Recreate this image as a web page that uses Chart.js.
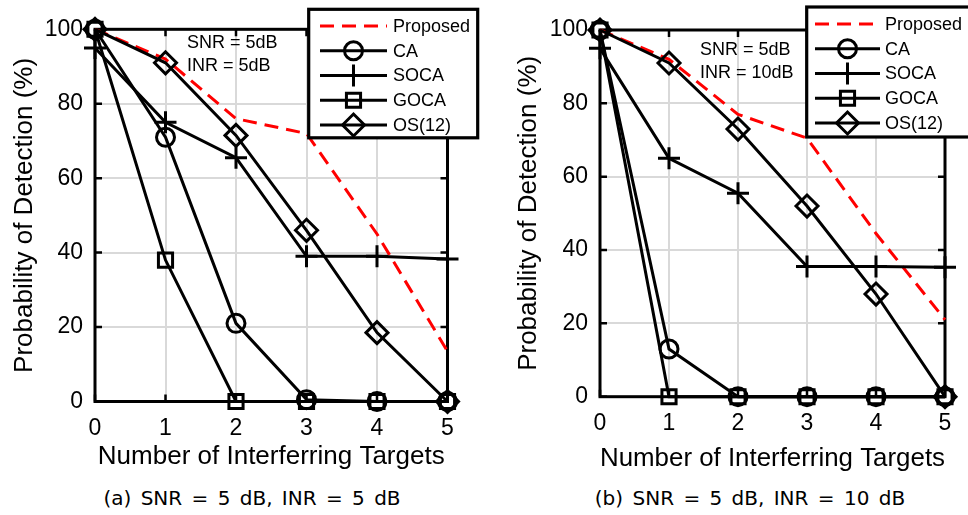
<!DOCTYPE html>
<html>
<head>
<meta charset="utf-8">
<script src="https://cdn.jsdelivr.net/npm/chart.js@4.4.1/dist/chart.umd.min.js"></script>
<style>
body{margin:0;background:#fff;width:968px;height:515px;position:relative;overflow:hidden}
canvas{position:absolute;top:0}
.legenda{position:absolute;top:486px;line-height:24px;font-family:"DejaVu Sans";font-size:20px;word-spacing:3px;white-space:nowrap;transform:translateX(-50%);color:#000}
</style>
</head>
<body>
<canvas id="graficoA" width="484" height="475" style="left:0"></canvas>
<canvas id="graficoB" width="484" height="475" style="left:484px"></canvas>
<div class="legenda" style="left:252px">(a) SNR = 5 dB, INR = 5 dB</div>
<div class="legenda" style="left:750px">(b) SNR = 5 dB, INR = 10 dB</div>
<script>
// dados
const alvos = ['0', '1', '2', '3', '4', '5'];
const nomes = ['Proposed', 'CA', 'SOCA', 'GOCA', 'OS(12)'];
const yTicks = [0, 20, 40, 60, 80, 100];

// (a) SNR = 5 dB, INR = 5 dB
const propostoA = [100, 92, 76, 72, 45, 13.5];
const caA = [100, 71, 21, 0.5, 0, 0];
const socaA = [95, 75, 65.5, 39, 39, 38.3];
const gocaA = [100, 38, 0, 0, 0, 0];
const osA = [100, 91, 71.5, 46, 18.5, 0];

// (b) SNR = 5 dB, INR = 10 dB
const propostoB = [100, 92, 77, 70.5, 44.5, 21];
const caB = [100, 13, 0, 0, 0, 0];
const socaB = [95, 65, 55.5, 35.5, 35.5, 35.3];
const gocaB = [100, 0, 0, 0, 0, 0];
const osB = [100, 91, 73, 52, 28, 0];

const estilos = [
  {cor: '#ff0000', tracejado: [14, 8], ponto: false, raio: 0},
  {ponto: 'circle', raio: 9},
  {ponto: 'cross', raio: 11},
  {ponto: 'rect', raio: 10},
  {ponto: 'rectRot', raio: 11},
];

const layoutA = {
  esq: 95, dir: 36.5, topo: 29.3, baixo: 73.5, padY: 12, tituloY: 9.4, tituloX: 2.4,
  notaX: 187, notaY: [43, 66.5], notas: ['SNR = 5dB', 'INR = 5dB'],
  leg: {x: 308.7, y: 9.3, w: 169, h: 128.5, y0: 26, passo: 24.75, l0: 320, l1: 387, tx: 393}
};
const layoutB = {
  esq: 116, dir: 23, topo: 30, baixo: 78.3, padY: 12, tituloY: 29.4, tituloX: 1,
  notaX: 216, notaY: [50, 73], notas: ['SNR = 5dB', 'INR = 10dB'],
  leg: {x: 322.7, y: 7, w: 200, h: 130, y0: 24, passo: 24.75, l0: 331, l1: 396, tx: 401}
};

// desenha marcador da legenda
function marcador(ctx, estilo, x, y, r){
  ctx.beginPath();
  if (estilo === 'circle') {
    ctx.arc(x, y, r, 0, Math.PI * 2);
  } else if (estilo === 'cross') {
    ctx.moveTo(x - r, y); ctx.lineTo(x + r, y);
    ctx.moveTo(x, y - r); ctx.lineTo(x, y + r);
  } else if (estilo === 'rect') {
    const s = r * Math.SQRT1_2;
    ctx.rect(x - s, y - s, 2 * s, 2 * s);
  } else if (estilo === 'rectRot') {
    ctx.moveTo(x - r, y); ctx.lineTo(x, y - r);
    ctx.lineTo(x + r, y); ctx.lineTo(x, y + r);
    ctx.closePath();
  }
  ctx.stroke();
}

function criarPlugin(L){
  return {
    id: 'moldura',
    beforeDatasetsDraw(chart){
      const {ctx, chartArea: a, scales: {x, y}} = chart;
      ctx.save();
      ctx.strokeStyle = '#000';
      ctx.lineWidth = 3;
      ctx.strokeRect(a.left, a.top, a.right - a.left, a.bottom - a.top);
      ctx.lineWidth = 2.5;
      ctx.beginPath();
      alvos.forEach((_, i) => {
        const px = x.getPixelForValue(i);
        ctx.moveTo(px, a.bottom); ctx.lineTo(px, a.bottom - 7);
        ctx.moveTo(px, a.top); ctx.lineTo(px, a.top + 7);
      });
      yTicks.forEach(v => {
        const py = y.getPixelForValue(v);
        ctx.moveTo(a.left, py); ctx.lineTo(a.left + 7, py);
        ctx.moveTo(a.right, py); ctx.lineTo(a.right - 7, py);
      });
      ctx.stroke();
      ctx.restore();
    },
    afterDraw(chart){
      const ctx = chart.ctx;
      ctx.save();
      // texto SNR / INR
      ctx.fillStyle = '#000';
      ctx.font = '18px "Liberation Sans"';
      ctx.textBaseline = 'middle';
      ctx.textAlign = 'left';
      L.notas.forEach((t, i) => ctx.fillText(t, L.notaX, L.notaY[i]));

      // legenda
      const g = L.leg;
      ctx.fillStyle = '#fff';
      ctx.fillRect(g.x, g.y, g.w, g.h);
      ctx.strokeStyle = '#000';
      ctx.lineWidth = 3.2;
      ctx.strokeRect(g.x, g.y, g.w, g.h);
      nomes.forEach((nome, i) => {
        const e = estilos[i];
        const yy = g.y0 + i * g.passo;
        ctx.strokeStyle = e.cor || '#000';
        ctx.lineWidth = 3;
        ctx.setLineDash(e.tracejado || []);
        ctx.beginPath();
        ctx.moveTo(g.l0, yy); ctx.lineTo(g.l1, yy);
        ctx.stroke();
        ctx.setLineDash([]);
        if (e.ponto) marcador(ctx, e.ponto, (g.l0 + g.l1) / 2, yy, e.raio);
        ctx.fillStyle = '#000';
        ctx.font = '18px "Liberation Sans"';
        ctx.fillText(nome, g.tx, yy + 1);
      });
      ctx.restore();
    }
  };
}

function criarDatasets(series){
  return series.map((valores, i) => {
    const e = estilos[i];
    return {
      label: nomes[i],
      data: valores,
      borderColor: e.cor || '#000',
      borderWidth: 3,
      borderDash: e.tracejado || [],
      pointStyle: e.ponto,
      pointRadius: e.raio,
      pointHoverRadius: e.raio,
      pointBorderWidth: 3,
      pointBorderColor: '#000',
      pointBackgroundColor: 'rgba(0,0,0,0)',
      tension: 0,
      clip: false,
      order: i === 0 ? 10 : i
    };
  });
}

function criarGrafico(id, series, L){
  const fonte = {family: 'Liberation Sans', size: 23};
  const fonteTitulo = {family: 'Liberation Sans', size: 26};
  return new Chart(document.getElementById(id), {
    type: 'line',
    data: {labels: alvos, datasets: criarDatasets(series)},
    options: {
      responsive: false,
      animation: false,
      devicePixelRatio: 1,
      layout: {padding: {left: 0, right: L.dir, top: L.topo, bottom: 0}},
      plugins: {legend: {display: false}, tooltip: {enabled: false}},
      scales: {
        x: {
          offset: false,
          grid: {color: '#d9d9d9', lineWidth: 2, drawTicks: false, tickLength: 0},
          border: {display: false},
          ticks: {color: '#000', font: fonte, padding: 13, maxRotation: 0},
          title: {display: true, text: 'Number of Interferring Targets', color: '#000',
                  font: fonteTitulo, padding: {top: 0, bottom: L.tituloX}},
          afterFit(s){ s.height = L.baixo; }
        },
        y: {
          min: 0, max: 100,
          grid: {color: '#d9d9d9', lineWidth: 2, drawTicks: false, tickLength: 0},
          border: {display: false},
          ticks: {stepSize: 20, color: '#000', font: fonte, padding: L.padY},
          title: {display: true, text: 'Probability of Detection (%)', color: '#000',
                  font: fonteTitulo, padding: {top: L.tituloY, bottom: 0}},
          afterFit(s){ s.width = L.esq; }
        }
      }
    },
    plugins: [criarPlugin(L)]
  });
}

criarGrafico('graficoA', [propostoA, caA, socaA, gocaA, osA], layoutA);
criarGrafico('graficoB', [propostoB, caB, socaB, gocaB, osB], layoutB);
</script>
</body>
</html>
